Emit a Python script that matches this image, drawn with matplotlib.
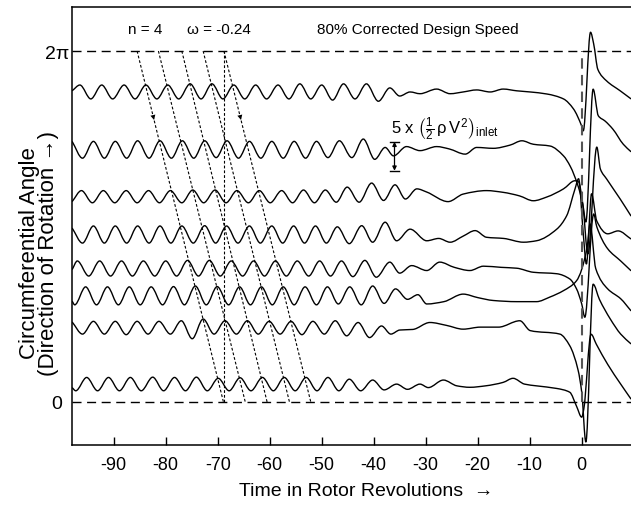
import numpy as np
import matplotlib.pyplot as plt
from matplotlib.path import Path
from matplotlib.patches import PathPatch

plt.rcParams['font.family'] = ['Liberation Sans', 'DejaVu Sans']
plt.rcParams['mathtext.fontset'] = 'custom'
plt.rcParams['mathtext.rm'] = 'Liberation Sans'
plt.rcParams['mathtext.it'] = 'Liberation Sans'
plt.rcParams['mathtext.sf'] = 'Liberation Sans'

# circumferential position of each probe (rad), top trace first
probe_angle = [5.55, 4.51, 3.67, 2.99, 2.40, 1.90, 1.34, 0.32]

# wall static pressure traces, in units of inlet dynamic head (1/2 rho V^2)
t_1 = [-98.0, -96.5, -94.4, -92.3, -90.2, -88.0, -85.9, -83.8, -81.7, -79.6, -77.5, -75.3, -73.2,
       -71.1, -69.0, -66.9, -64.8, -62.7, -60.6, -58.4, -56.3, -54.2, -52.1, -50.0, -47.9, -45.8,
       -43.6, -41.4, -39.1, -36.9, -35.0, -33.0, -31.1, -27.9, -25.3, -22.8, -20.2, -17.6, -15.1,
       -12.5, -9.9, -6.7, -3.5, -1.6, 0.0, 0.3, 1.7, 2.3, 3.1, 4.8, 7.4, 9.5]
p_1 = [0.2, 1.2, -1.2, 1.2, -1.2, 1.2, -1.2, 1.2, -1.2, 1.2, -1.2, 1.4, -1.2, 1.4, -1.2, 1.2, -1.2,
       1.2, -1.2, 1.2, -1.2, 1.4, -1.2, 1.2, -1.4, 1.4, -1.2, 1.4, -1.6, 0.7, -0.7, 0.0, -0.3, 0.5,
       -0.3, 0.0, 0.35, 0.0, 0.5, 0.2, 0.0, -0.35, -1.2, -2.9, -5.9, -6.7, 10.3, 8.3, 3.9, 1.9, 0.2, -1.2]

t_2 = [-98.0, -96.0, -93.9, -91.8, -89.7, -87.5, -85.4, -83.2, -81.1, -78.9, -76.8, -74.6, -72.5,
       -70.3, -68.2, -66.0, -63.9, -61.7, -59.6, -57.4, -55.3, -53.1, -51.0, -48.8, -46.6, -44.2,
       -42.0, -39.8, -37.8, -36.2, -33.7, -31.1, -27.9, -25.5, -22.4, -20.2, -17.0, -13.8, -11.5,
       -9.3, -6.1, -3.5, -2.2, -0.7, 0.2, 0.8, 2.2, 3.2, 4.5, 6.0, 8.0, 9.5]
p_2 = [1.5, -1.4, 1.5, -1.4, 1.5, -1.4, 1.6, -1.4, 1.6, -1.4, 1.6, -1.4, 1.6, -1.3, 1.6, -1.4, 1.5,
       -1.4, 1.5, -1.4, 1.5, -1.4, 1.5, -1.3, 1.6, -1.3, 1.9, -1.6, 0.45, -1.0, 0.6, -0.1, 0.6, 0.2,
       -0.7, 0.45, 0.3, 0.85, 1.6, 1.0, 0.7, -1.0, -2.8, -6.2, -9.3, -12.4, 10.5, 5.9, 5.0, 3.6, 1.0, -0.3]

t_3 = [-98.0, -96.2, -94.1, -92.0, -89.8, -87.6, -85.5, -83.3, -81.2, -79.1, -76.9, -74.8, -72.7,
       -70.5, -68.4, -66.3, -64.1, -62.0, -59.9, -57.7, -55.6, -53.5, -51.4, -49.3, -47.2, -45.1,
       -42.8, -40.4, -38.1, -35.9, -33.9, -31.7, -29.8, -25.7, -22.8, -18.3, -15.1, -12.0, -9.3,
       -6.7, -3.5, -1.3, -0.6, 0.2, 1.2, 2.9, 3.6, 4.8, 7.4, 9.5]
p_3 = [-0.8, 1.1, -1.0, 1.1, -1.0, 1.1, -1.0, 1.1, -1.0, 1.1, -1.0, 1.2, -1.0, 1.2, -1.0, 1.1, -1.0,
       1.1, -1.0, 1.1, -1.0, 1.2, -1.0, 1.2, -0.9, 1.7, -0.9, 2.4, -0.6, 2.1, -0.35, 1.4, 0.85, -0.8,
       0.5, 1.1, 0.8, 0.2, -0.65, 0.0, 1.4, 2.8, 2.6, -1.2, -9.8, 8.6, 4.8, 3.1, -0.35, -3.3]

t_4 = [-98.0, -96.0, -93.9, -91.8, -89.7, -87.5, -85.4, -83.2, -81.1, -79.0, -76.9, -74.7, -72.5,
       -70.4, -68.3, -66.1, -63.9, -61.8, -59.6, -57.5, -55.4, -53.3, -51.2, -49.1, -47.0, -44.7,
       -42.3, -40.2, -37.8, -35.6, -33.0, -29.8, -27.5, -25.3, -22.8, -20.5, -18.3, -15.0, -11.2,
       -8.7, -4.8, -2.9, -1.3, -0.6, 0.3, 0.9, 1.9, 2.9, 5.0, 7.0, 9.5]
p_4 = [1.2, -1.4, 1.55, -1.4, 1.55, -1.4, 1.55, -1.4, 1.55, -1.4, 1.55, -1.4, 1.6, -1.4, 1.55, -1.4,
       1.55, -1.4, 1.55, -1.4, 1.55, -1.4, 1.55, -1.4, 1.4, -1.5, 1.6, -1.25, 2.2, -1.0, 1.0, -1.0,
       -0.6, -1.25, -0.2, 0.75, -0.4, -0.6, -1.25, -1.0, 1.0, 3.3, 7.9, 9.7, 0.2, -5.0, 7.1, 2.4,
       0.2, 0.7, -0.7]

t_5 = [-98.0, -97.0, -94.8, -92.7, -90.6, -88.5, -86.4, -84.3, -82.1, -80.0, -77.9, -75.8, -73.7,
       -71.6, -69.5, -67.4, -65.2, -63.1, -61.0, -58.9, -56.8, -54.7, -52.5, -50.4, -48.3, -46.2,
       -44.0, -41.7, -39.5, -36.9, -35.0, -32.7, -29.8, -27.3, -24.5, -21.5, -18.9, -15.5, -12.5,
       -9.3, -4.8, -2.3, -1.0, 0.0, 0.6, 2.3, 2.9, 5.0, 7.5, 9.5]
p_5 = [-0.3, 1.2, -1.4, 1.2, -1.4, 1.2, -1.4, 1.2, -1.4, 1.2, -1.4, 1.3, -1.4, 1.3, -1.4, 1.2, -1.4,
       1.2, -1.4, 1.2, -1.4, 1.2, -1.4, 1.2, -1.4, 1.2, -1.5, 1.3, -1.6, 1.0, -0.9, 0.4, -0.45, 1.0,
       0.1, -0.45, 0.3, 0.1, -0.05, -0.75, -1.0, -1.9, -3.6, -6.2, -8.5, 9.3, 7.1, 3.3, 1.2, -0.5]

t_6 = [-98.0, -97.5, -95.4, -93.3, -91.2, -89.1, -87.0, -84.9, -82.8, -80.6, -78.5, -76.4, -74.3,
       -72.2, -70.1, -67.9, -65.8, -63.7, -61.6, -59.5, -57.4, -55.3, -53.2, -51.0, -48.9, -46.8,
       -44.6, -42.4, -40.2, -38.0, -35.8, -33.5, -31.5, -29.8, -26.5, -22.8, -20.0, -17.0, -12.5,
       -8.7, -6.1, -3.5, -1.0, 1.0, 1.6, 2.7, 5.0, 7.5, 9.5]
p_6 = [-0.9, -1.55, 1.55, -1.55, 1.55, -1.55, 1.55, -1.55, 1.55, -1.55, 1.6, -1.55, 1.7, -1.55,
       1.6, -1.55, 1.55, -1.55, 1.55, -1.55, 1.55, -1.55, 1.55, -1.55, 1.55, -1.4, 1.55, -1.55, 1.7,
       -1.3, 1.2, -0.6, 0.2, -1.4, -1.0, 0.3, -0.3, -0.8, -1.0, -1.0, -0.2, 0.9, 2.6, 8.1, 12.4,
       4.7, 1.2, -0.5, -2.6]

t_7 = [-98.0, -96.0, -93.9, -91.8, -89.7, -87.6, -85.5, -83.4, -81.3, -79.1, -77.0, -74.9, -72.8,
       -70.7, -68.6, -66.4, -64.3, -62.2, -60.1, -58.0, -55.9, -53.8, -51.7, -49.5, -47.4, -45.2,
       -43.0, -40.8, -38.5, -36.7, -35.0, -32.5, -29.2, -26.0, -22.8, -19.5, -16.0, -11.9, -9.9,
       -4.2, -2.3, -0.7, 0.0, 0.8, 2.2, 3.4, 5.5, 7.5, 9.5]
p_7 = [0.9, -1.2, 1.0, -1.2, 1.0, -1.3, 1.0, -1.2, 1.0, -1.2, 1.1, -2.0, 1.4, -1.2, 1.1, -1.2, 1.1,
       -1.2, 1.0, -1.2, 1.0, -1.3, 1.0, -1.2, 1.1, -1.5, 0.8, -1.8, 0.2, -1.2, -0.5, -0.4, 0.8, 0.3,
       -0.35, 0.0, 0.0, 1.1, -0.6, -1.2, -3.2, -7.4, -11.2, -19.8, 7.4, 4.8, 1.4, -1.2, -2.9]

t_8 = [-98.0, -97.3, -95.2, -93.1, -91.0, -88.9, -86.8, -84.7, -82.5, -80.4, -78.3, -76.2, -74.1,
       -72.0, -69.9, -67.8, -65.7, -63.6, -61.4, -59.3, -57.2, -55.1, -53.0, -50.9, -48.8, -46.7,
       -44.7, -42.5, -40.2, -38.0, -35.6, -33.5, -31.1, -29.5, -26.6, -24.0, -21.5, -18.5, -15.1,
       -13.2, -11.0, -8.7, -4.8, -2.3, -1.0, 0.0, 0.4, 1.8, 2.8, 5.0, 7.5, 9.5]
p_8 = [-0.6, -1.15, 1.15, -1.15, 1.15, -1.15, 1.15, -1.15, 1.2, -1.15, 1.15, -1.15, 1.2, -1.15,
       1.0, -1.15, 1.1, -1.15, 1.15, -1.15, 1.15, -1.15, 1.15, -1.15, 1.15, -1.15, 0.85, -1.15,
       0.7, -1.0, 0.0, -0.9, 0.0, -0.6, 0.7, -0.3, -0.55, -0.3, 0.3, 1.0, 0.0, -0.3, -0.75, -1.4,
       -3.8, -5.7, -4.3, 8.6, 6.9, 3.4, 0.0, -2.6]

# modal pattern lines (n = 4, omega = -0.24): start at 2pi, end at 0
pattern_top = [-85.5, -81.4, -76.9, -72.8, -68.8]
pattern_bottom = [-68.9, -64.7, -60.5, -56.2, -52.1]

xticks = [-90, -80, -70, -60, -50, -40, -30, -20, -10, 0]

times = [t_1, t_2, t_3, t_4, t_5, t_6, t_7, t_8]
press = [p_1, p_2, p_3, p_4, p_5, p_6, p_7, p_8]
unit = 0.1038          # rad of plot per dynamic head
twopi = 2 * np.pi


def smooth_trace(ax, x, y, **kw):
    # draw the read points joined by monotone cubic (Bezier) segments
    x = np.asarray(x, float)
    y = np.asarray(y, float)
    h = np.diff(x)
    d = np.diff(y) / h
    m = np.zeros_like(y)
    m[0], m[-1] = d[0], d[-1]
    for k in range(1, len(x) - 1):
        if d[k - 1] * d[k] > 0:
            w1 = 2 * h[k] + h[k - 1]
            w2 = h[k] + 2 * h[k - 1]
            m[k] = (w1 + w2) / (w1 / d[k - 1] + w2 / d[k])
    verts = [(x[0], y[0])]
    codes = [Path.MOVETO]
    for k in range(len(x) - 1):
        verts += [(x[k] + h[k] / 3, y[k] + m[k] * h[k] / 3),
                  (x[k + 1] - h[k] / 3, y[k + 1] - m[k + 1] * h[k] / 3),
                  (x[k + 1], y[k + 1])]
        codes += [Path.CURVE4] * 3
    ax.add_patch(PathPatch(Path(verts, codes), fill=False, **kw))


fig = plt.figure(figsize=(6.31, 5.10), dpi=100)
ax = fig.add_axes([0.1146, 0.1255, 0.8854, 0.8588])

for ang, t, p in zip(probe_angle, times, press):
    smooth_trace(ax, t, ang + unit * np.array(p), edgecolor='black', lw=1.0, joinstyle='round')

# reference lines
ax.plot([-98, 10], [0, 0], color='black', lw=1.0, dashes=(6.5, 4))
ax.plot([-98, 10], [twopi, twopi], color='black', lw=1.0, dashes=(6.5, 4))
ax.plot([0, 0], [0, twopi], color='#555555', lw=1.5, dashes=(5, 3))

for tt, tb in zip(pattern_top, pattern_bottom):
    ax.plot([tt, tb], [twopi, 0], color='black', lw=0.8, dashes=(2.5, 1.8))
ax.plot([pattern_top[-1], pattern_top[-1]], [0, twopi], color='black', lw=0.8, dashes=(2.5, 1.8))
for k in [0, -1]:
    tt, tb = pattern_top[k], pattern_bottom[k]
    f1, f2 = (twopi - 5.25) / twopi, (twopi - 5.0) / twopi
    ax.annotate('', xy=(tt + (tb - tt) * f2, 5.0), xytext=(tt + (tb - tt) * f1, 5.25),
                arrowprops=dict(arrowstyle='-|>', color='black', lw=0, mutation_scale=9))

# scale bar
bar_t, bar_lo = -36.0, 4.14
bar_hi = bar_lo + 5 * unit
ax.annotate('', xy=(bar_t, bar_hi), xytext=(bar_t, bar_lo),
            arrowprops=dict(arrowstyle='<|-|>', color='black', lw=0.9, mutation_scale=6,
                            shrinkA=0, shrinkB=0))
ax.plot([bar_t - 0.8, bar_t + 0.8], [bar_hi, bar_hi], color='black', lw=1.0)
ax.plot([bar_t - 0.8, bar_t + 0.8], [bar_lo, bar_lo], color='black', lw=1.0)
ax.text(-36.6, 4.90, r'$5\ \mathrm{x}\ \left(\frac{1}{2}\,\rho\, V^{2}\right)_{\mathrm{inlet}}$',
        fontsize=12, ha='left', va='center')

ax.text(-87.2, 6.68, 'n = 4', fontsize=11, ha='left', va='center')
ax.text(-75.9, 6.68, 'ω = -0.24', fontsize=11, ha='left', va='center')
ax.text(-50.9, 6.68, '80% Corrected Design Speed', fontsize=11, ha='left', va='center')

ax.set_xlim(-97.96, 9.48)
ax.set_ylim(-0.770, 7.071)
ax.set_xticks(xticks)
ax.set_xticklabels([str(v) for v in xticks])
ax.set_yticks([0, twopi])
ax.set_yticklabels(['0', '2π'])
ax.tick_params(axis='x', direction='in', length=6, width=1.0, labelsize=13, pad=8)
ax.tick_params(axis='y', length=0, labelsize=14, pad=11)
for lab in ax.get_yticklabels():
    lab.set_horizontalalignment('center')
ax.spines['right'].set_visible(False)
for s in ['left', 'bottom', 'top']:
    ax.spines[s].set_linewidth(1.1)

ax.set_xlabel('Time in Rotor Revolutions  →', fontsize=14, labelpad=10)
ax.xaxis.set_label_coords(0.526, -0.085)
ax.set_ylabel('Circumferential Angle\n(Direction of Rotation →)', fontsize=16, linespacing=0.85)
ax.yaxis.set_label_coords(-0.024, 0.44)

fig.savefig('out.png', dpi=100)
